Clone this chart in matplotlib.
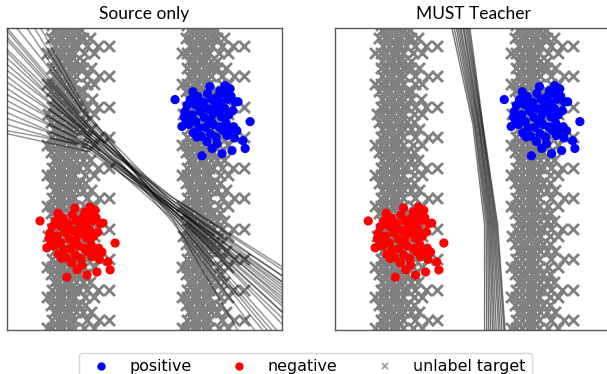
import numpy as np
import matplotlib.pyplot as plt
from matplotlib.lines import Line2D

# unlabelled target band: (row y, x positions); the second band is the same shape further right
band_rows = [
    (101.0, [16.5, 18.5, 20.5, 22.5, 25.0]),
    (99.3, [17.0, 19.0, 21.0, 23.0, 25.0, 27.0]),
    (96.8, [16.0, 18.0, 20.0, 22.0, 24.0, 26.0, 27.5, 30.0]),
    (94.2, [17.5, 19.5, 21.5, 23.5, 25.5, 29.0, 33.0, 37.0]),
    (91.7, [14.5, 16.5, 18.5, 20.5, 22.5, 24.5, 28.0, 31.5]),
    (89.2, [17.0, 19.0, 21.0, 23.0, 25.0, 27.5]),
    (86.7, [16.5, 18.5, 20.5, 22.5, 24.5, 26.0, 27.5, 30.5]),
    (84.1, [17.0, 19.0, 21.0, 23.0, 25.0, 29.0, 33.5, 37.0]),
    (81.6, [14.5, 16.5, 18.5, 20.5, 22.5, 24.5, 29.0, 31.5]),
    (79.1, [16.0, 18.0, 20.0, 22.0, 24.0, 26.0, 27.5]),
    (76.6, [17.0, 19.0, 21.0, 23.0, 25.0, 27.5, 31.0]),
    (74.0, [16.5, 18.5, 20.5, 22.5, 24.5, 26.0, 29.0, 33.0, 37.0]),
    (71.5, [15.0, 17.0, 19.0, 21.0, 23.0, 25.0, 28.5, 31.5]),
    (69.0, [16.0, 18.0, 20.0, 22.0, 24.0, 26.0, 28.5]),
    (66.5, [17.0, 19.0, 21.0, 23.0, 25.0, 27.5, 30.5]),
    (63.9, [16.5, 18.5, 20.5, 22.5, 24.5, 29.0, 33.5, 37.0]),
    (61.4, [14.5, 16.5, 18.5, 20.5, 22.5, 24.5, 28.0, 31.5]),
    (58.9, [16.0, 18.0, 20.0, 22.0, 24.0, 26.0, 28.5]),
    (56.4, [17.0, 19.0, 21.0, 23.0, 25.0, 27.5, 30.0]),
    (53.8, [16.5, 18.5, 20.5, 22.5, 24.5, 26.0, 29.0, 33.0, 37.0]),
    (51.3, [14.5, 16.5, 18.5, 20.5, 22.5, 24.5, 28.5, 31.5]),
    (48.8, [16.0, 18.0, 20.0, 22.0, 24.0, 26.0, 28.5]),
    (46.3, [17.0, 19.0, 21.0, 23.0, 25.0, 27.5, 30.5]),
    (43.7, [16.5, 18.5, 20.5, 22.5, 24.5, 29.0, 33.5, 37.0]),
    (41.2, [14.5, 16.5, 18.5, 20.5, 22.5, 24.5, 28.0, 31.5]),
    (38.7, [16.0, 18.0, 20.0, 22.0, 24.0, 26.0, 28.5]),
    (36.2, [17.0, 19.0, 21.0, 23.0, 25.0, 27.5, 30.0]),
    (33.6, [16.5, 18.5, 20.5, 22.5, 24.5, 26.0, 29.0, 33.0, 37.0]),
    (31.1, [15.0, 17.0, 19.0, 21.0, 23.0, 25.0, 28.5, 31.5]),
    (28.6, [16.0, 18.0, 20.0, 22.0, 24.0, 26.0, 28.5]),
    (26.1, [17.0, 19.0, 21.0, 23.0, 25.0, 27.5, 30.5]),
    (23.5, [16.5, 18.5, 20.5, 22.5, 24.5, 29.0, 33.5, 37.0]),
    (21.0, [14.5, 16.5, 18.5, 20.5, 22.5, 24.5, 28.0, 31.5]),
    (18.5, [16.0, 18.0, 20.0, 22.0, 24.0, 26.0, 28.5]),
    (16.0, [17.0, 19.0, 21.0, 23.0, 25.0, 27.5, 30.0]),
    (13.4, [16.5, 18.5, 20.5, 22.5, 24.5, 26.0, 29.0, 33.0, 37.0]),
    (10.9, [14.5, 16.5, 18.5, 20.5, 22.5, 24.5, 28.5, 31.5]),
    (8.4, [16.0, 18.0, 20.0, 22.0, 24.0, 26.0, 28.5]),
    (5.9, [17.0, 19.0, 21.0, 23.0, 25.0, 27.5, 30.5]),
    (3.3, [16.5, 18.5, 20.5, 22.5, 24.5, 29.0, 33.5, 37.0]),
    (0.8, [14.5, 16.5, 18.5, 20.5, 22.5, 24.5, 28.0, 31.5]),
]
band_shift = [0.0, 49.0]

# source clusters: same offsets around each centre
cluster_offsets = [
    (-11.5, 6.1), (1.2, 10.4), (6.7, 10.7), (8.5, 9.7), (11.4, 5.4), (15.8, -1.2),
    (13.2, -7.5), (14.0, -10.1), (-1.7, -12.5), (2.0, -10.1), (5.6, -11.8), (9.2, -10.8),
    (0.1, -7.8), (3.8, -8.5), (-9.0, -2.8), (-7.9, 2.1), (-5.0, 8.7), (11.0, -4.2), (7.4, -5.8),
    (-8.2, 0.3), (-7.1, 4.2), (-6.3, -2.1), (-6.0, 6.0), (-5.2, 1.1), (-4.8, -4.9),
    (-4.1, 4.4), (-3.9, -1.2), (-3.2, 7.1), (-2.8, -3.3), (-2.3, 2.2), (-1.9, -6.1),
    (-1.2, 5.2), (-0.8, 0.2), (-0.5, -3.1), (0.3, 8.1), (0.6, 3.0), (0.9, -1.0),
    (1.4, -5.2), (1.8, 6.2), (2.3, 1.4), (2.6, -2.2), (3.1, 4.1), (3.4, -6.3),
    (3.9, 7.0), (4.3, 2.3), (4.6, -3.0), (5.1, 5.1), (5.4, 0.4), (5.9, -4.1),
    (6.2, 8.1), (6.6, 3.2), (7.1, -1.7), (7.6, 6.2), (8.0, 1.0), (8.4, -4.0),
    (8.9, 7.2), (9.5, 2.4), (9.8, -2.9), (10.3, 5.3), (-6.6, 0.1), (-3.6, -6.3),
    (10.1, -6.6), (-7.6, -1.8), (-2.4, 2.6), (4.8, 9.0), (1.5, -0.5),
]
positive_centre = (72.6, 70.2)
negative_centre = (23.5, 30.0)

# source-only boundaries: y at these x
src_x = [0, 30, 60, 100]
src_lines = [
    [104, 70, 42, 10], [110, 69, 40, 2], [99, 67, 41, 12], [96, 66, 43, 16],
    [93, 66, 44, 20], [90, 65, 42, 14], [88, 64, 40, 6], [86, 65, 43, 18],
    [84, 63, 40, 8], [82, 64, 44, 21], [80, 62, 41, 13], [78, 63, 38, -4],
    [76, 61, 41, 15], [74, 62, 42, 18], [72, 60, 39, 6], [70, 61, 40, 11],
    [68, 60, 41, 16], [66, 61, 37, -8], [65, 59, 40, 9], [100, 68, 39, -2],
    [115, 70, 38, -6], [97, 67, 36, -12], [92, 64, 39, 4], [120, 71, 37, -25],
]

# MUST teacher boundaries: x at these y
must_y = [100, 68, 35, 0]
must_lines = [
    [42.2, 49.8, 54.0, 54.0], [43.0, 50.3, 54.6, 54.8], [43.8, 50.6, 55.1, 55.5],
    [44.4, 51.0, 55.5, 56.2], [45.0, 51.4, 55.9, 56.9], [45.5, 51.8, 56.3, 57.5],
    [46.2, 52.0, 56.7, 58.2], [46.6, 52.3, 57.1, 59.0], [47.2, 52.7, 57.5, 59.6],
    [47.7, 53.0, 57.9, 60.3], [48.2, 53.2, 58.3, 61.0], [48.7, 53.4, 58.7, 61.4],
]

bx = np.array([x for y, xs in band_rows for x in xs])
by = np.array([y for y, xs in band_rows for x in xs])
tx = np.concatenate([bx + s for s in band_shift])
ty = np.concatenate([by for s in band_shift])
off = np.array(cluster_offsets)

fig = plt.figure(figsize=(6.07, 3.74), dpi=100)
ax1 = fig.add_axes([7 / 607, 44 / 374, 275 / 607, 302 / 374])
ax2 = fig.add_axes([335 / 607, 44 / 374, 277 / 607, 302 / 374])


def panel(ax, title):
    ax.scatter(tx, ty, marker='x', s=62, linewidths=2.0, color='gray', zorder=1)
    ax.scatter(positive_centre[0] + off[:, 0], positive_centre[1] + off[:, 1],
               s=44, color='blue', edgecolors='none', zorder=2)
    ax.scatter(negative_centre[0] + off[:, 0], negative_centre[1] + off[:, 1],
               s=44, color='red', edgecolors='none', zorder=2)
    ax.set_xlim(0, 100)
    ax.set_ylim(0, 100)
    ax.set_xticks([])
    ax.set_yticks([])
    for sp in ax.spines.values():
        sp.set_color('0.35')
        sp.set_linewidth(1.0)
    ax.set_title(title, fontsize=12.5, family='Lato', pad=6.5)


panel(ax1, 'Source only')
for ly in src_lines:
    ax1.plot(src_x, ly, color='k', alpha=0.4, lw=1.1, zorder=3)

panel(ax2, 'MUST Teacher')
for lx in must_lines:
    ax2.plot(lx, must_y, color='k', alpha=0.55, lw=1.0, zorder=3)

handles = [
    Line2D([], [], ls='', marker='o', color='blue', markersize=6, markeredgewidth=0),
    Line2D([], [], ls='', marker='o', color='red', markersize=6, markeredgewidth=0),
    Line2D([], [], ls='', marker='x', color='gray', markersize=5, markeredgewidth=1.2, alpha=0.8),
]
fig.legend(handles, ['positive', 'negative', 'unlabel target'], ncol=3, fontsize=11.4,
           loc='upper center', bbox_to_anchor=(0.503, 0.0775))

fig.savefig('out.png', dpi=100)
